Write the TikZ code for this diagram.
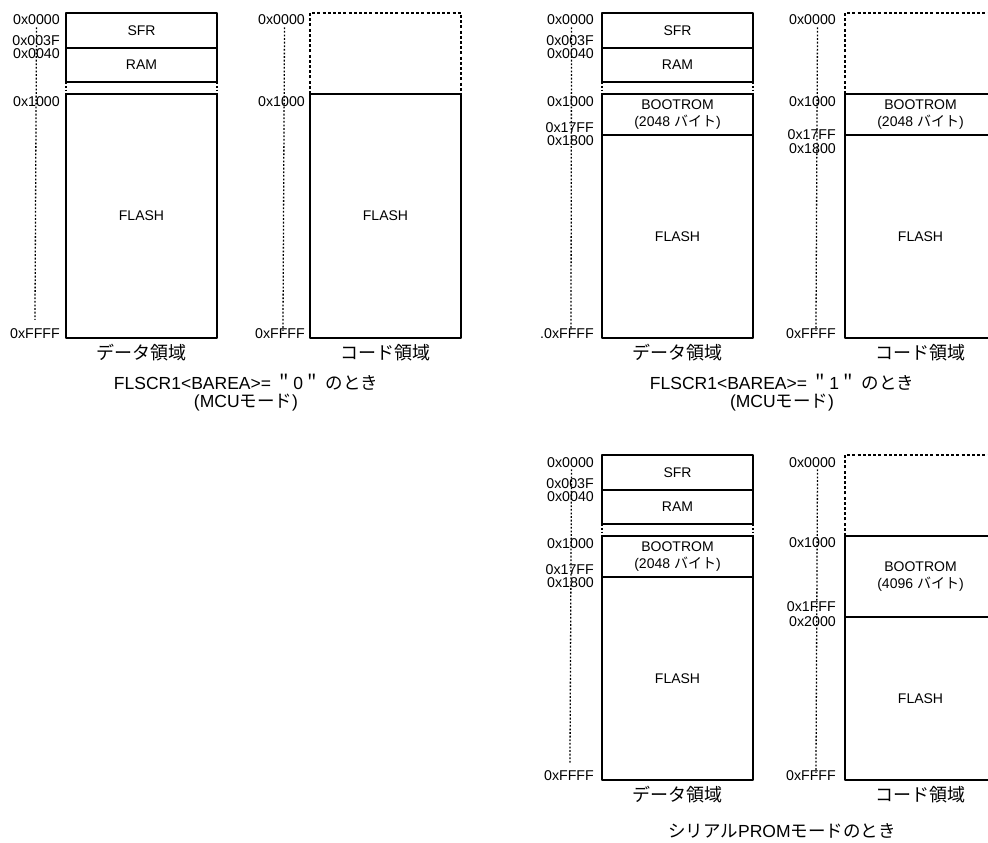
\documentclass[tikz,border=0pt]{standalone}
\usepackage{fontspec}
\setmainfont{Liberation Sans}
\newfontfamily\cjk{Noto Sans CJK JP}
\tikzset{
  mapbox/.style={line width=1.1pt},
  gapline/.style={line width=1.3pt,dash pattern=on 1.8pt off 2pt},
  dashbox/.style={line width=1.2pt,dash pattern=on 3pt off 2.2pt},
  addrline/.style={line width=1.3pt,dash pattern=on 1.8pt off 1.8pt},
  addr/.style={font=\fontsize{14.2}{15}\selectfont,anchor=base east,inner sep=0pt},
  area/.style={font=\fontsize{14}{17}\selectfont,align=center,inner sep=0pt},
  areaname/.style={font=\cjk\fontsize{18}{18}\selectfont,inner sep=0pt},
  caption/.style={font=\fontsize{17.5}{20}\selectfont,inner sep=0pt},
}
\begin{document}
\begin{tikzpicture}[x=1pt,y=-1pt,line join=round]
\useasboundingbox (0,0) rectangle (988,843);
\clip (0,0) rectangle (988,843);
% FLSCR1<BAREA>="0" : data area
\begin{scope}[shift={(66,13)}]
  \draw[mapbox] (0,0) rectangle (151,69) (0,35)--(151,35);
  \draw[gapline] (0,69)--(0,81) (151,69)--(151,81);
  \draw[mapbox] (0,81) rectangle (151,325);
  \node[area] (adSFR) at (75.5,17.5) {SFR};
  \node[area] (adRAM) at (75.5,52) {RAM};
  \node[area] (adFLASH) at (75.5,203) {FLASH};
  \foreach \a/\y [count=\i] in {0x0000/12,0x003F/33,0x0040/46,0x1000/93.5,0xFFFF/325}
    \node[addr] (ad\i) at (-6,\y) {\a};
  \draw[addrline] ([yshift=-2pt]ad1.south) -- ([yshift=8pt]ad5.north);
  \node[areaname] (adname) at (75.5,340) {データ領域};
  \node[caption] (acap1) at (180,369) {FLSCR1<BAREA>= {\cjk ＂}0{\cjk ＂} {\cjk のとき}};
  \node[caption] (acap2) at (180,390) {(MCU{\cjk モード})};
\end{scope}
% FLSCR1<BAREA>="0" : code area
\begin{scope}[shift={(310,13)}]
  \draw[dashbox] (0,81)--(0,0)--(151,0)--(151,81);
  \draw[mapbox] (0,81) rectangle (151,325);
  \node[area] (acFLASH) at (75.5,203) {FLASH};
  \foreach \a/\y [count=\i] in {0x0000/12,0x1000/93.5,0xFFFF/325}
    \node[addr] (ac\i) at (-5,\y) {\a};
  \draw[addrline] ([xshift=3pt,yshift=-2pt]ac1.south) -- ([xshift=3pt,yshift=-3pt]ac3.north);
  \node[areaname] (acname) at (75.5,340) {コード領域};
\end{scope}
% FLSCR1<BAREA>="1" : data area
\begin{scope}[shift={(602,13)}]
  \draw[mapbox] (0,0) rectangle (151,69) (0,35)--(151,35);
  \draw[gapline] (0,69)--(0,81) (151,69)--(151,81);
  \draw[mapbox] (0,81) rectangle (151,325) (0,122)--(151,122);
  \node[area] (bdSFR) at (75.5,17.5) {SFR};
  \node[area] (bdRAM) at (75.5,52) {RAM};
  \node[area] (bdBOOT) at (75.5,102) {BOOTROM\\(2048 {\cjk バイト})};
  \node[area] (bdFLASH) at (75.5,223.5) {FLASH};
  \foreach \a/\y [count=\i] in {0x0000/12,0x003F/33,0x0040/46,0x1000/93.5,0x17FF/119,0x1800/132.5,.0xFFFF/325}
    \node[addr] (bd\i) at (-8,\y) {\a};
  \draw[addrline] ([xshift=1pt,yshift=-2pt]bd1.south) -- ([xshift=4pt,yshift=-2pt]bd7.north);
  \node[areaname] (bdname) at (75.5,340) {データ領域};
  \node[caption] (bcap1) at (180,369) {FLSCR1<BAREA>= {\cjk ＂}1{\cjk ＂} {\cjk のとき}};
  \node[caption] (bcap2) at (180,390) {(MCU{\cjk モード})};
\end{scope}
% FLSCR1<BAREA>="1" : code area
\begin{scope}[shift={(845,13)}]
  \draw[dashbox] (0,81)--(0,0)--(151,0)--(151,81);
  \draw[mapbox] (0,81) rectangle (151,325) (0,122)--(151,122);
  \node[area] (bcBOOT) at (75.5,102) {BOOTROM\\(2048 {\cjk バイト})};
  \node[area] (bcFLASH) at (75.5,223.5) {FLASH};
  \foreach \a/\y [count=\i] in {0x0000/12,0x1000/93.5,0x17FF/126,0x1800/140,0xFFFF/325}
    \node[addr] (bc\i) at (-9,\y) {\a};
  \draw[addrline] ([xshift=5pt,yshift=-2pt]bc1.south) -- ([xshift=5pt,yshift=-3pt]bc5.north);
  \node[areaname] (bcname) at (75.5,340) {コード領域};
\end{scope}
% serial PROM mode : data area
\begin{scope}[shift={(602,455)}]
  \draw[mapbox] (0,0) rectangle (151,69) (0,35)--(151,35);
  \draw[gapline] (0,69)--(0,81) (151,69)--(151,81);
  \draw[mapbox] (0,81) rectangle (151,325) (0,122)--(151,122);
  \node[area] (cdSFR) at (75.5,17.5) {SFR};
  \node[area] (cdRAM) at (75.5,52) {RAM};
  \node[area] (cdBOOT) at (75.5,102) {BOOTROM\\(2048 {\cjk バイト})};
  \node[area] (cdFLASH) at (75.5,223.5) {FLASH};
  \foreach \a/\y [count=\i] in {0x0000/12,0x003F/33,0x0040/46,0x1000/93.5,0x17FF/119,0x1800/132.5,0xFFFF/325}
    \node[addr] (cd\i) at (-8,\y) {\a};
  \draw[addrline] ([xshift=1pt,yshift=-2pt]cd1.south) -- ([xshift=1pt,yshift=6pt]cd7.north);
  \node[areaname] (cdname) at (75.5,340) {データ領域};
  \node[caption] (ccap) at (180,376) {{\cjk シリアル}PROM{\cjk モードのとき}};
\end{scope}
% serial PROM mode : code area
\begin{scope}[shift={(845,455)}]
  \draw[dashbox] (0,81)--(0,0)--(151,0)--(151,81);
  \draw[mapbox] (0,81) rectangle (151,325) (0,162)--(151,162);
  \node[area] (ccBOOT) at (75.5,122) {BOOTROM\\(4096 {\cjk バイト})};
  \node[area] (ccFLASH) at (75.5,243.5) {FLASH};
  \foreach \a/\y [count=\i] in {0x0000/12,0x1000/92,0x1FFF/156.5,0x2000/171.5,0xFFFF/325}
    \node[addr] (cc\i) at (-9,\y) {\a};
  \draw[addrline] ([xshift=5pt,yshift=-2pt]cc1.south) -- ([xshift=5pt,yshift=-3pt]cc5.north);
  \node[areaname] (ccname) at (75.5,340) {コード領域};
\end{scope}
\end{tikzpicture}
\end{document}
